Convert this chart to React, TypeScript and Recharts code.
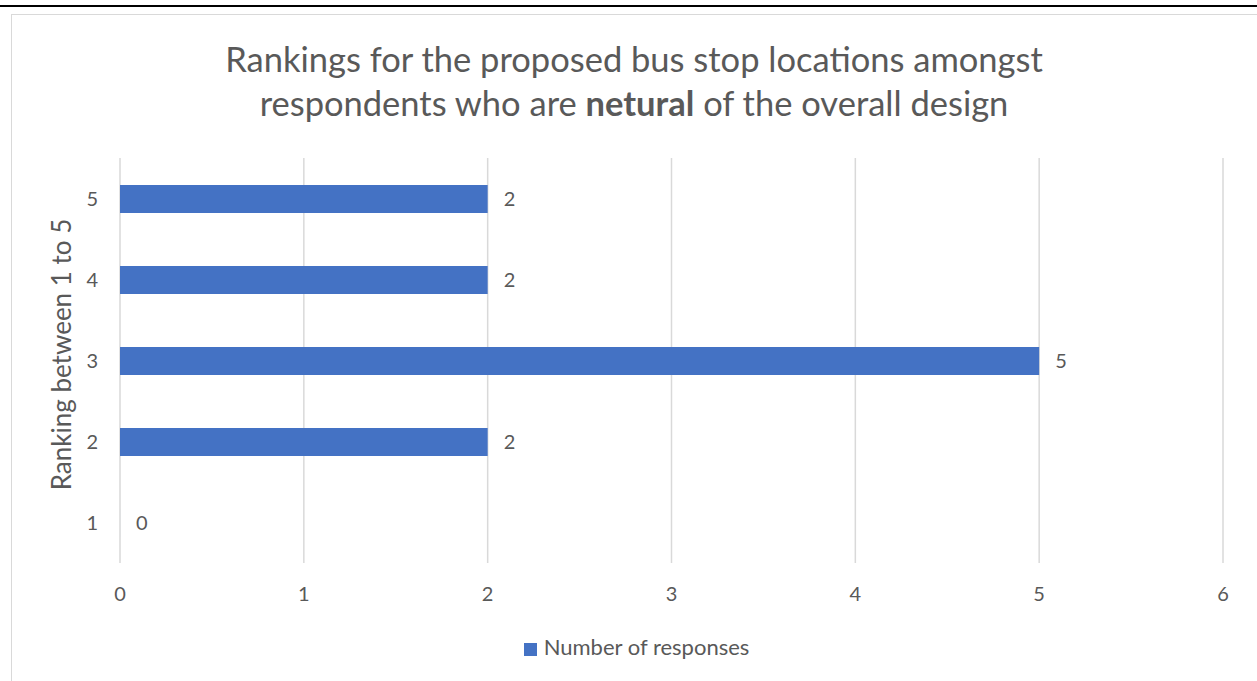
import React from 'react';
import { BarChart, Bar, XAxis, YAxis, CartesianGrid, Legend, LabelList, Label } from 'recharts';

const rankings = ['5', '4', '3', '2', '1'];
const responses = [2, 2, 5, 2, 0];
const valueTicks = [0, 1, 2, 3, 4, 5, 6];

const chartData = rankings.map((rank, i) => ({ rank, responses: responses[i] }));

const FONT = 'Lato, "Open Sans", sans-serif';
const GREY = '#595959';

export default function App() {
  return (
    <div style={{ position: 'absolute', left: 0, top: 0, width: 1257, height: 681, background: '#fff', fontFamily: FONT }}>
      <div style={{ position: 'absolute', left: 0, top: 5, width: 1257, height: 2, background: '#000' }} />
      <div style={{ position: 'absolute', left: 11, top: 14, width: 1260, height: 700, border: '1px solid #d9d9d9' }} />
      <div
        style={{
          position: 'absolute',
          left: 0,
          top: 37,
          width: 1268,
          textAlign: 'center',
          fontSize: 34.5,
          lineHeight: '44px',
          color: GREY,
        }}
      >
        Rankings for the proposed bus stop locations amongst
        <br />
        respondents who are <b>netural</b> of the overall design
      </div>
      <div style={{ position: 'absolute', left: 0, top: 0 }}>
        <BarChart
          width={1257}
          height={681}
          data={chartData}
          layout="vertical"
          margin={{ top: 158, right: 34, bottom: 88, left: 60 }}
        >
          <CartesianGrid horizontal={false} stroke="#d9d9d9" strokeWidth={1.5} />
          <XAxis
            type="number"
            domain={[0, 6]}
            ticks={valueTicks}
            axisLine={false}
            tickLine={false}
            tickMargin={18}
            height={30}
            tick={{ fill: GREY, fontSize: 20, fontFamily: FONT }}
          />
          <YAxis
            type="category"
            dataKey="rank"
            width={60}
            axisLine={false}
            tickLine={false}
            tickMargin={16}
            tick={{ fill: GREY, fontSize: 20, fontFamily: FONT }}
          >
            <Label
              value="Ranking between 1 to 5"
              angle={-90}
              position="center"
              dx={-28}
              dy={-6}
              style={{ fill: GREY, fontSize: 26, fontFamily: FONT }}
            />
          </YAxis>
          <Legend
            layout="horizontal"
            align="center"
            verticalAlign="middle"
            iconType="square"
            iconSize={13}
            wrapperStyle={{ top: 633, fontSize: 22, fontFamily: FONT }}
            formatter={(v: string) => <span style={{ color: GREY, paddingLeft: 3 }}>{v}</span>}
          />
          <Bar
            dataKey="responses"
            name="Number of responses"
            fill="#4472c4"
            barSize={28}
            minPointSize={0.01}
            isAnimationActive={false}
          >
            <LabelList
              dataKey="responses"
              position="right"
              offset={16}
              style={{ fill: GREY, fontSize: 20, fontFamily: FONT }}
            />
          </Bar>
        </BarChart>
      </div>
    </div>
  );
}
